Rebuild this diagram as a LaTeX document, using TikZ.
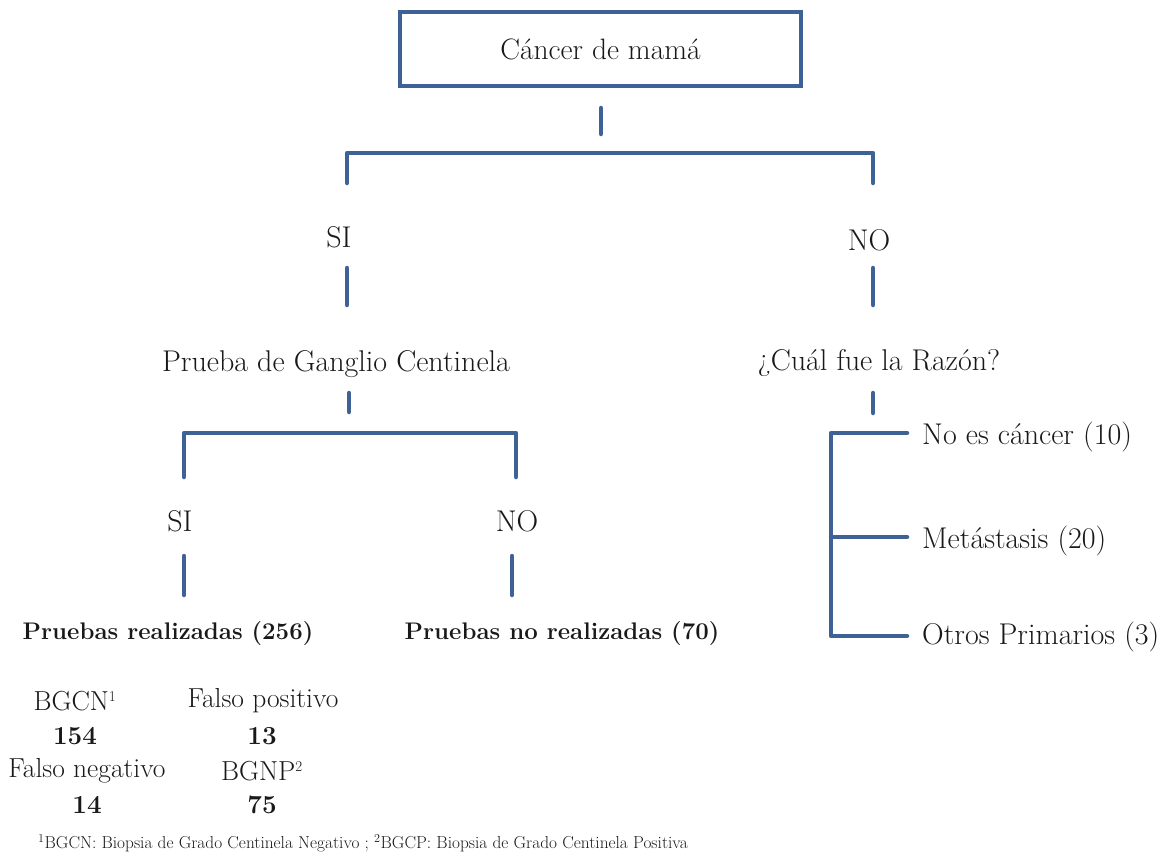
\documentclass[tikz,border=0pt]{standalone}
\usepackage{fontspec}
\definecolor{lineblue}{RGB}{63,98,150}
\newcommand{\supnum}[1]{\textsuperscript{\fontsize{15}{15}\selectfont #1}}
\begin{document}
\begin{tikzpicture}[x=1pt,y=-1pt,
  conn/.style={draw=lineblue,line width=4.5pt,line cap=round,line join=round},
  txt/.style={inner sep=0pt,font=\fontsize{30}{34}\selectfont,text=black!90},
  ttxt/.style={inner sep=0pt,font=\fontsize{27.5}{32}\selectfont,text=black!90},
  btxt/.style={inner sep=0pt,font=\fontsize{24}{28}\selectfont\bfseries,text=black!90},
  ntxt/.style={inner sep=0pt,font=\fontsize{26}{30}\selectfont\bfseries,text=black!90},
  ftxt/.style={inner sep=0pt,font=\fontsize{17.3}{20}\selectfont,text=black!90},
  topbox/.style={draw=lineblue,line width=4.5pt,minimum width=401pt,minimum height=74pt,inner sep=0pt,font=\fontsize{29.5}{34}\selectfont,text=black!90}]
\useasboundingbox (0,0) rectangle (1170,854);
% top box
\node[topbox] (root) at (600.5,49) {Cáncer de mamá};
\coordinate (t1) at (601,108);
\coordinate (t2) at (601,134);
\draw[conn] (t1) -- (t2);
% first bracket
\coordinate (b1l) at (347,183);
\coordinate (b1lt) at (347,153);
\coordinate (b1rt) at (873,153);
\coordinate (b1r) at (873,183);
\draw[conn] (b1l) -- (b1lt) -- (b1rt) -- (b1r);
\node[txt] (si1) at (339,237) {SI};
\node[txt] (no1) at (869,240) {NO};
\coordinate (s1a) at (347,268); \coordinate (s1b) at (347,305);
\coordinate (n1a) at (873,268); \coordinate (n1b) at (873,305);
\draw[conn] (s1a) -- (s1b);
\draw[conn] (n1a) -- (n1b);
\node[txt] (pgc) at (336,364) {Prueba de Ganglio Centinela};
\node[txt] (raz) at (879,363) {¿Cuál fue la Razón?};
\coordinate (p1a) at (349,393); \coordinate (p1b) at (349,412);
\coordinate (r1a) at (873,393); \coordinate (r1b) at (873,413);
\draw[conn] (p1a) -- (p1b);
\draw[conn] (r1a) -- (r1b);
% second bracket
\coordinate (b2l) at (184,477);
\coordinate (b2lt) at (184,433);
\coordinate (b2rt) at (516,433);
\coordinate (b2r) at (516,477);
\draw[conn] (b2l) -- (b2lt) -- (b2rt) -- (b2r);
\node[txt] (si2) at (180,521) {SI};
\node[txt] (no2) at (517,521) {NO};
\coordinate (s2a) at (184,556); \coordinate (s2b) at (184,595);
\coordinate (n2a) at (512,556); \coordinate (n2b) at (512,595);
\draw[conn] (s2a) -- (s2b);
\draw[conn] (n2a) -- (n2b);
\node[btxt] (pr) at (168,634) {Pruebas realizadas (256)};
\node[btxt] (pnr) at (562,634) {Pruebas no realizadas (70)};
% table
\node[ttxt] (bgcn) at (75,701) {BGCN\supnum{1}};
\node[ttxt] (fp) at (263,701) {Falso positivo};
\node[ntxt] (v154) at (75,736) {154};
\node[ntxt] (v13) at (262,736) {13};
\node[ttxt] (fn) at (87,771) {Falso negativo};
\node[ttxt] (bgnp) at (262,771) {BGNP\supnum{2}};
\node[ntxt] (v14) at (87,805) {14};
\node[ntxt] (v75) at (262,805) {75};
\node[ftxt,anchor=west] (foot) at (38,843) {\textsuperscript{1}BGCN: Biopsia de Grado Centinela Negativo ; \textsuperscript{2}BGCP: Biopsia de Grado Centinela Positiva};
% right bracket
\coordinate (rb1) at (907,433);
\coordinate (rbt) at (831,433);
\coordinate (rbm) at (831,537);
\coordinate (rbm2) at (907,537);
\coordinate (rbb) at (831,636);
\coordinate (rb3) at (907,636);
\draw[conn] (rb1) -- (rbt) -- (rbb) -- (rb3);
\draw[conn] (rbm) -- (rbm2);
\node[txt,anchor=west] (nc) at (922,437) {No es cáncer (10)};
\node[txt,anchor=west] (met) at (922,541) {Metástasis (20)};
\node[txt,anchor=west] (otr) at (922,637) {Otros Primarios (3)};
\end{tikzpicture}
\end{document}
